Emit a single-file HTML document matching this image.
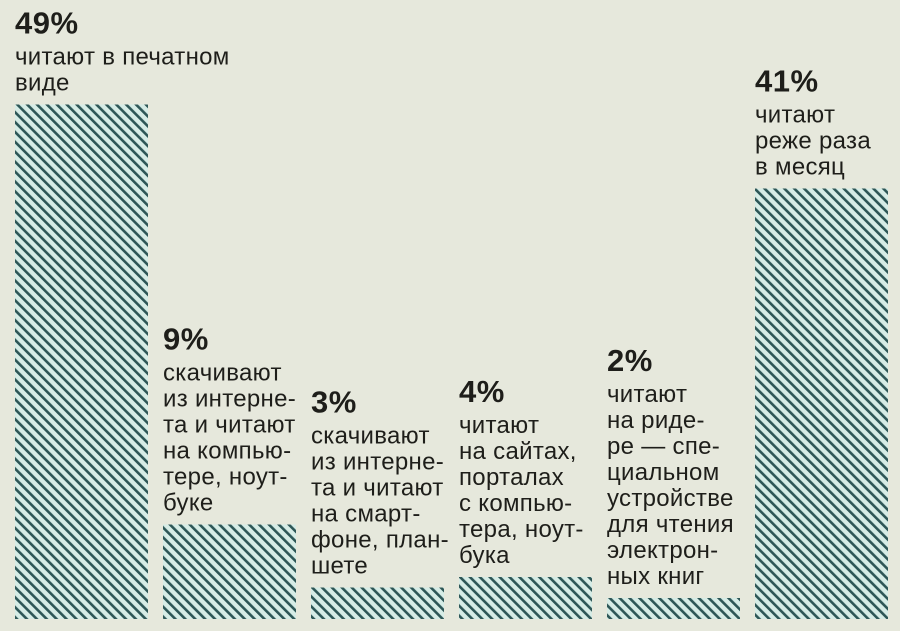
<!DOCTYPE html>
<html><head><meta charset="utf-8"><style>
html,body{margin:0;padding:0;background:#e6e8dc;}
svg{display:block;}
text{font-family:"Liberation Sans",sans-serif;fill:#1e1e1a;}
.pct{font-weight:bold;font-size:31px;letter-spacing:0.5px;}
.lbl{font-size:24px;letter-spacing:0.3px;}
</style></head><body>
<svg id="chart" width="900" height="631" viewBox="0 0 900 631">
<defs>
<pattern id="hatch" patternUnits="userSpaceOnUse" width="7" height="7" patternTransform="rotate(-45)">
<rect width="7" height="7" fill="#d6ece6"/>
<rect x="0" y="0" width="2.6" height="7" fill="#2d5656"/>
</pattern>
</defs>
<rect width="900" height="631" fill="#e6e8dc"/>
<g id="bars"></g>
</svg>
<script>
const categories=["printed","internet-pc","internet-phone","sites-pc","reader","rarely"];
const values=[49,9,3,4,2,41];
const pctLabels=["49%","9%","3%","4%","2%","41%"];
const descLines=[
["читают в печатном","виде"],
["скачивают","из интерне-","та и читают","на компью-","тере, ноут-","буке"],
["скачивают","из интерне-","та и читают","на смарт-","фоне, план-","шете"],
["читают","на сайтах,","порталах","с компью-","тера, ноут-","бука"],
["читают","на риде-","ре — спе-","циальном","устройстве","для чтения","электрон-","ных книг"],
["читают","реже раза","в месяц"]
];
const NS="http://www.w3.org/2000/svg";
const baseY=619, scale=10.5, x0=15, step=148, bw=133;
const xPos=i=>x0+i*step;
const yPos=v=>baseY-v*scale;
const g=document.getElementById('bars');
values.forEach((v,i)=>{
  const grp=document.createElementNS(NS,'g');
  
  
  const r=document.createElementNS(NS,'rect');
  const top=yPos(v);
  r.setAttribute('x',xPos(i));r.setAttribute('y',top);
  r.setAttribute('width',bw);r.setAttribute('height',baseY-top);
  r.setAttribute('fill','url(#hatch)');
  
  
  grp.appendChild(r);
  const lines=descLines[i];
  const lastBase=top-14;
  lines.forEach((ln,j)=>{
    const t=document.createElementNS(NS,'text');
    t.setAttribute('x',xPos(i));
    t.setAttribute('y',lastBase-(lines.length-1-j)*26);
    t.setAttribute('class','lbl');
    t.textContent=ln;
    
    
    grp.appendChild(t);
  });
  const p=document.createElementNS(NS,'text');
  p.setAttribute('x',xPos(i));
  p.setAttribute('y',lastBase-(lines.length-1)*26-31);
  p.setAttribute('class','pct');
  p.textContent=pctLabels[i];
  
  
  grp.appendChild(p);
  g.appendChild(grp);
});
</script>
</body></html>
